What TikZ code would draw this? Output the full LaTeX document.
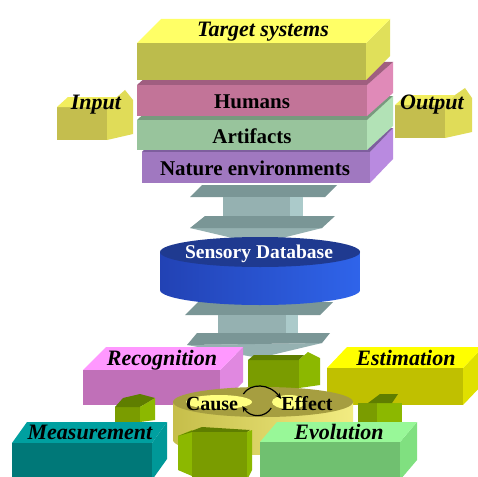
\documentclass[tikz,border=0pt]{standalone}
\usepackage{fontspec}
\setmainfont{Liberation Serif}
\usetikzlibrary{calc,arrows.meta}
\definecolor{plateG}{HTML}{7A9696}
\definecolor{shaftG}{HTML}{95B1B1}
\definecolor{sideG}{HTML}{ABCACA}
\definecolor{grF}{HTML}{7A9C00}
\definecolor{grT}{HTML}{5F7E00}
\definecolor{grS}{HTML}{8CB800}
\newcommand\prismbox[9]{%
  \fill[#9] (#3,#2) -- (#3+#5,#2-#6) -- (#3+#5,#4-#6) -- (#3,#4) -- cycle;
  \fill[#8] (#1,#2) -- (#1+#5,#2-#6) -- (#3+#5,#2-#6) -- (#3,#2) -- cycle;
  \fill[#7] (#1,#2) rectangle (#3,#4);}
\tikzset{
  hf/.code={\definecolor{tmpf}{HTML}{#1}\tikzset{fill=tmpf}},
  hl/.code={\definecolor{tmpl}{HTML}{#1}\tikzset{left color=tmpl}},
  hr/.code={\definecolor{tmpr}{HTML}{#1}\tikzset{right color=tmpr}},
  lbi/.style={font=\fontsize{22}{22}\selectfont\bfseries\itshape, inner sep=0pt, anchor=base},
  lb/.style={font=\fontsize{21}{21}\selectfont\bfseries, inner sep=0pt, anchor=base},
  cyc/.style={-{Stealth[length=6pt,width=5pt]}, line width=1.2pt, black}
}
\begin{document}
\begin{tikzpicture}[x=1pt,y=-1pt]
\clip (0,0) rectangle (478,476);
\fill[white] (0,0) rectangle (478,476);
% ---- Input / Output
\fill[hf=C4BE4E] (57,107) rectangle (107,140);
\fill[hf=F2EE5E] (57,107) -- (68,97) -- (117,97) -- (107,107) -- cycle;
\fill[hf=E0DC58] (107,107) -- (117,97) -- (125,90) -- (133,100) -- (133,134) -- (107,140) -- cycle;
\fill[hf=C4BE4E] (395,105) rectangle (445,138);
\fill[hf=F2EE5E] (395,105) -- (406,95) -- (455,95) -- (445,105) -- cycle;
\fill[hf=E0DC58] (445,105) -- (455,95) -- (465,88) -- (472,98) -- (472,132) -- (445,138) -- cycle;
\node[lbi] (input) at (96,110) {Input};
\node[lbi] (output) at (432,110) {Output};
% ---- stack
\prismbox{142}{152}{370}{183}{23}{24}{hf=A078C0}{hf=7E5E9E}{hf=B98AE0}
\prismbox{137}{120}{367}{150}{26}{24}{hf=98C49C}{hf=789A7E}{hf=B2E2B6}
\prismbox{137}{85}{367}{116}{26}{23}{hf=C27498}{hf=A05E80}{hf=E08AB8}
\prismbox{137}{43}{366}{80}{24}{24}{hf=BCBC4C}{hf=FFFF66}{hf=E0E05A}
\node[lbi] (target) at (263,37) {Target systems};
\node[lb] (humans) at (252,108) {Humans};
\node[lb] (artifacts) at (252,143) {Artifacts};
\node[lb] (nature) at (255,175) {Nature environments};
% ---- upper gray arrow
\fill[plateG] (190,197) -- (202,185) -- (337,185) -- (325,197) -- cycle;
\fill[shaftG] (223,197) rectangle (290,228);
\fill[sideG] (290,197) rectangle (303,228);
\fill[shaftG] (190,228) -- (322,228) -- (258,244) -- cycle;
\fill[plateG] (190,228) -- (205,216) -- (335,216) -- (322,228) -- cycle;
% ---- lower gray arrow
\fill[plateG] (185,315) -- (198,302) -- (333,302) -- (320,315) -- cycle;
\fill[shaftG] (218,315) rectangle (286,343);
\fill[sideG] (286,315) rectangle (298,343);
\fill[shaftG] (187,345) -- (322,343) -- (259,358) -- cycle;
\fill[plateG] (187,345) -- (197,333) -- (330,333) -- (322,343) -- cycle;
% ---- sensory database cylinder
\shade[hl=2242B4,hr=2F64EA] (160,252) -- (160,290) arc[start angle=180,end angle=0,x radius=100,y radius=15] -- (360,252) -- cycle;
\fill[hf=1F3A90] (260,252) ellipse[x radius=100,y radius=15];
\node[font=\fontsize{19.5}{19.5}\selectfont\bfseries, text=white, inner sep=0pt, anchor=base] (sensory) at (259,258) {Sensory Database};
% ---- Recognition / Estimation
\prismbox{83}{370}{220}{405}{23}{23}{hf=C070B8}{hf=FF98FF}{hf=E088E0}
\prismbox{327}{368}{463}{405}{20}{21}{hf=C0C000}{hf=FFFF00}{hf=E0E000}
\node[lbi] (recog) at (162,365) {Recognition};
\node[lbi] (estim) at (406,365) {Estimation};
% ---- top green arrow
\fill[grF] (248,360) rectangle (299,388);
\fill[grT] (248,360) -- (254,355) -- (304,355) -- (299,360) -- cycle;
\fill[grS] (299,360) -- (308,352) -- (320,358) -- (320,385) -- (299,388) -- cycle;
% ---- cause / effect cylinder
\shade[hl=C6BE4A,hr=F2EC82] (173,402) -- (173,440) arc[start angle=180,end angle=0,x radius=90,y radius=15] -- (353,402) -- cycle;
\fill[hf=A69E40] (263,402) ellipse[x radius=90,y radius=15];
\fill[hf=FFFF80] (219,402) ellipse[x radius=33,y radius=7];
\fill[hf=FFFF80] (289,402) ellipse[x radius=17,y radius=7];
\node[font=\fontsize{20}{20}\selectfont\bfseries, inner sep=0pt, anchor=base] (cause) at (212,410) {Cause};
\node[font=\fontsize{20}{20}\selectfont\bfseries, inner sep=0pt, anchor=base] (effect) at (307,410) {Effect};
\draw[cyc] ($(cause.base east)+(5,-16)$) .. controls ($(cause.base east)+(12,-27)$) and ($(effect.base west)+(-12,-27)$) .. ($(effect.base west)+(0,-11)$);
\draw[cyc] ($(effect.base west)+(-10,-2)$) .. controls ($(effect.base west)+(-16,8)$) and ($(cause.base east)+(12,8)$) .. ($(cause.base east)+(4,-4)$);
% ---- side green arrows
\fill[grF] (115,407) rectangle (140,422);
\fill[grT] (115,407) -- (123,398) -- (140,394) -- (155,398) -- (140,407) -- cycle;
\fill[grS] (140,407) -- (155,398) -- (155,420) -- (140,422) -- cycle;
\fill[grF] (358,403) rectangle (377,422);
\fill[grS] (377,403) rectangle (402,422);
\fill[grT] (368,403) -- (380,394) -- (398,394) -- (392,403) -- cycle;
% ---- Measurement / Evolution
\prismbox{12}{443}{152}{480}{15}{21}{hf=007878}{hf=00A0A0}{hf=009898}
\prismbox{260}{442}{400}{480}{17}{20}{hf=70C070}{hf=98F898}{hf=80E080}
\node[lbi] (measure) at (90,439) {Measurement};
\node[lbi] (evol) at (339,439) {Evolution};
% ---- bottom green arrow
\fill[grS] (178,436) -- (192,430) -- (192,476) -- (178,470) -- cycle;
\fill[grT] (178,436) -- (202,427) -- (250,430) -- (247,432) -- (192,432) -- cycle;
\fill[grF] (192,432) rectangle (247,480);
\fill[grS] (247,432) -- (252,430) -- (252,470) -- (247,480) -- cycle;
\end{tikzpicture}
\end{document}
